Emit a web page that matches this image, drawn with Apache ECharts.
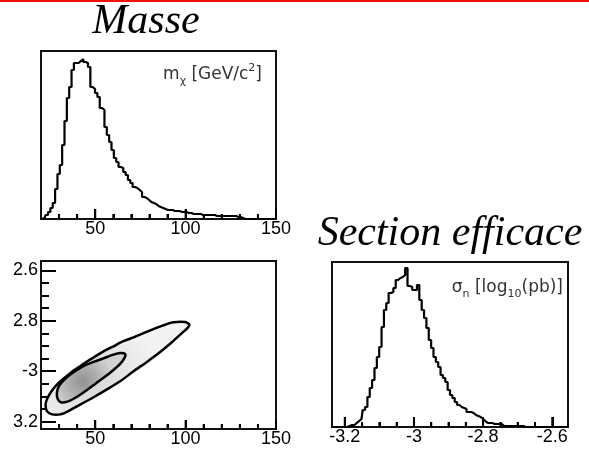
<!DOCTYPE html>
<html>
<head>
<meta charset="utf-8">
<script src="https://cdn.jsdelivr.net/npm/echarts@6/dist/echarts.min.js"></script>
<style>
  html, body { margin: 0; padding: 0; background: #fff; }
  #chart { width: 589px; height: 450px; }
</style>
</head>
<body>
<div id="chart"></div>
<script>
// Neutralino mass posterior: 100 bins from 20 to 150 GeV/c^2
const massRange = [20, 150];
const massCounts = [
  0, 1, 4, 7, 11, 16, 30, 45, 54, 74,
  98, 121, 132, 149, 156, 156, 158, 160, 157, 156,
  152, 132, 130, 126, 122, 111, 109, 92, 84, 77,
  69, 61, 57, 52, 51, 47, 44, 39, 36, 32,
  31, 29, 27, 22, 21, 19, 17, 16, 15, 13,
  12, 11, 10, 9, 9, 9, 8, 8, 8, 7,
  7, 7, 6, 6, 5, 5, 5, 5, 4, 4,
  4, 4, 4, 4, 3, 3, 3, 3, 3, 3,
  3, 3, 3, 2, 2, 1, 0, 0, 0, 0,
  0, 0, 0, 0, 0, 0, 0, 0, 0, 0
];

// Cross-section posterior, log10(pb): 100 bins
const sigmaRange = [-3.237, -2.5545];
const sigmaCounts = [
  0, 0, 0, 0, 0, 0, 0, 1, 2, 2,
  4, 6, 8, 17, 20, 30, 39, 47, 59, 70,
  80, 100, 117, 124, 134, 135, 139, 147, 149, 150,
  152, 159, 141, 140, 137, 137, 142, 127, 117, 109,
  99, 87, 79, 70, 65, 60, 52, 49, 45, 37,
  32, 29, 25, 22, 20, 19, 18, 15, 15, 14,
  12, 11, 10, 8, 6, 4, 4, 4, 3, 3,
  3, 3, 1, 1, 1, 1, 1, 1, 1, 1,
  1, 0, 0, 0, 0, 0, 0, 0, 0, 0,
  0, 0, 0, 0, 0, 0, 0, 0, 0, 0
];

// Joint (mass, sigma) credible regions
const sigma2dRange = [-3.229, -2.563];
const outerContour = [
  [102.1, -2.815], [99.7, -2.805], [93.3, -2.806], [87.7, -2.818], [82.2, -2.833],
  [76.7, -2.849], [71.2, -2.866], [65.6, -2.881], [60.1, -2.901], [54.6, -2.921],
  [49.1, -2.945], [43.5, -2.971], [38.0, -2.997], [33.4, -3.024], [29.2, -3.050],
  [26.1, -3.076], [23.6, -3.106], [22.5, -3.132], [23.3, -3.158], [26.1, -3.171],
  [30.7, -3.171], [35.2, -3.158], [41.7, -3.132], [49.1, -3.103], [56.5, -3.072],
  [63.8, -3.040], [71.2, -3.000], [78.6, -2.963], [85.9, -2.924], [92.4, -2.885],
  [97.9, -2.849], [101.0, -2.829]
];
const innerContour = [
  [66.6, -2.932], [63.8, -2.928], [60.1, -2.934], [54.6, -2.949], [49.1, -2.963],
  [44.5, -2.976], [40.8, -2.991], [36.2, -3.013], [32.5, -3.036], [29.9, -3.059],
  [28.8, -3.086], [29.2, -3.109], [31.0, -3.123], [34.4, -3.121], [39.0, -3.105],
  [43.5, -3.084], [49.1, -3.055], [54.6, -3.026], [60.1, -2.995], [63.8, -2.971],
  [66.2, -2.947]
];

// Tick positions and labels
const massTicks = [50, 100, 150];
const massMinorTicks = [30, 40, 60, 70, 80, 90, 110, 120, 130, 140];
const sigmaTicks = [-3.2, -3, -2.8, -2.6];
const sigmaMinorTicks = [-3.15, -3.1, -3.05, -2.95, -2.9, -2.85, -2.75, -2.7, -2.65];
const sigmaTickLabels = ['-3.2', '-3', '-2.8', '-2.6'];
const sigma2dTickLabels = ['3.2', '-3', '2.8', '2.6'];

function binned(range, counts) {
  const w = (range[1] - range[0]) / counts.length;
  return counts.map((c, i) => [range[0] + w * (i + 0.5), c]);
}

const labelFont = { fontFamily: "'Liberation Sans', Arial, sans-serif", fontSize: 18, color: '#000' };
const tickLine = { color: '#000', width: 2 };
const frameLine = { show: true, onZero: false, lineStyle: { color: '#111', width: 2 } };

function majorX(gridIndex, range, ticks, labels, len) {
  return {
    type: 'value', gridIndex, position: 'bottom', min: range[0], max: range[1],
    axisLine: frameLine, splitLine: { show: false },
    axisTick: { show: true, inside: true, length: len, customValues: ticks, lineStyle: tickLine },
    axisLabel: Object.assign({ show: true, margin: 1, customValues: ticks,
      formatter: v => labels ? labels[ticks.indexOf(v)] : String(v) }, labelFont)
  };
}
function minorX(gridIndex, range, ticks, len) {
  return {
    type: 'value', gridIndex, position: 'bottom', min: range[0], max: range[1],
    axisLine: frameLine, splitLine: { show: false },
    axisTick: { show: true, inside: true, length: len, customValues: ticks, lineStyle: tickLine },
    axisLabel: { show: false }
  };
}

const chart = echarts.init(document.getElementById('chart'));

const frame = { show: true, borderColor: '#111', borderWidth: 2 };

const contours = [outerContour, innerContour];
const contourFills = [
  { type: 'radial', x: 0.3, y: 0.6, r: 0.75, colorStops: [
    { offset: 0, color: '#d4d4d4' }, { offset: 0.5, color: '#e6e6e6' }, { offset: 1, color: '#f3f3f3' } ] },
  { type: 'radial', x: 0.38, y: 0.57, r: 0.6, colorStops: [
    { offset: 0, color: '#929292' }, { offset: 0.5, color: '#b0b0b0' }, { offset: 1, color: '#d2d2d2' } ] }
];

const annFont = "'DejaVu Sans', Verdana, sans-serif";

const textGraphics = [
  { type: 'rect', shape: { x: 0, y: 0, width: 589, height: 2 }, style: { fill: '#ee1111' } },
  { type: 'text', x: 146, y: 22, style: { text: 'Masse', fill: '#000',
      font: "italic 42px 'Liberation Serif', 'Times New Roman', serif", align: 'center', verticalAlign: 'middle' } },
  { type: 'text', x: 450, y: 234, style: { text: 'Section efficace', fill: '#000',
      font: "italic 42px 'Liberation Serif', 'Times New Roman', serif", align: 'center', verticalAlign: 'middle' } },
  { type: 'text', x: 262, y: 75, style: {
      text: '{m|m}{s|χ}{m| [GeV/c}{p|2}{m|]}', align: 'right', verticalAlign: 'middle',
      rich: {
        m: { fontFamily: annFont, fontSize: 17, fill: '#333', lineHeight: 24, verticalAlign: 'middle' },
        s: { fontFamily: annFont, fontSize: 11, fill: '#333', lineHeight: 12, verticalAlign: 'bottom' },
        p: { fontFamily: annFont, fontSize: 11, fill: '#333', lineHeight: 12, verticalAlign: 'top' }
      } } },
  { type: 'text', x: 563, y: 288, style: {
      text: '{m|σ}{s|n}{m| [log}{s|10}{m|(pb)]}', align: 'right', verticalAlign: 'middle',
      rich: {
        m: { fontFamily: annFont, fontSize: 17, fill: '#333', lineHeight: 24, verticalAlign: 'middle' },
        s: { fontFamily: annFont, fontSize: 11, fill: '#333', lineHeight: 12, verticalAlign: 'bottom' }
      } } }
];

chart.setOption({
  animation: false,
  grid: [
    Object.assign({ left: 41, top: 51, width: 235, height: 168 }, frame),
    Object.assign({ left: 41, top: 261, width: 235, height: 168 }, frame),
    Object.assign({ left: 332, top: 262, width: 236, height: 165 }, frame)
  ],
  xAxis: [
    majorX(0, massRange, massTicks, null, 10),
    minorX(0, massRange, massMinorTicks, 5),
    majorX(1, massRange, massTicks, null, 9),
    minorX(1, massRange, massMinorTicks, 5),
    majorX(2, sigmaRange, sigmaTicks, sigmaTickLabels, 10),
    minorX(2, sigmaRange, sigmaMinorTicks, 5)
  ],
  yAxis: [
    { type: 'value', gridIndex: 0, min: 0, max: 168, show: false },
    {
      type: 'value', gridIndex: 1, position: 'left', min: sigma2dRange[0], max: sigma2dRange[1],
      axisLine: { show: false }, splitLine: { show: false },
      axisTick: { show: true, inside: true, length: 15, customValues: sigmaTicks, lineStyle: tickLine },
      axisLabel: Object.assign({ show: true, margin: 3, customValues: sigmaTicks,
        formatter: v => sigma2dTickLabels[sigmaTicks.indexOf(v)] }, labelFont)
    },
    {
      type: 'value', gridIndex: 1, position: 'left', offset: 0, min: sigma2dRange[0], max: sigma2dRange[1],
      axisLine: { show: false }, splitLine: { show: false },
      axisTick: { show: true, inside: true, length: 8, customValues: sigmaMinorTicks, lineStyle: tickLine },
      axisLabel: { show: false }
    },
    { type: 'value', gridIndex: 2, min: 0, max: 165, show: false }
  ],
  series: [
    {
      type: 'line', xAxisIndex: 0, yAxisIndex: 0, step: 'middle', symbol: 'none',
      data: binned(massRange, massCounts),
      lineStyle: { color: '#000', width: 2.2 }, z: 5
    },
    {
      type: 'custom', coordinateSystem: 'cartesian2d', xAxisIndex: 2, yAxisIndex: 1,
      data: contours.map(c => c[0]),
      encode: { x: 0, y: 1 },
      renderItem: (params, api) => {
        const pts = contours[params.dataIndex].map(p => api.coord(p));
        return {
          type: 'polygon',
          shape: { points: pts, smooth: 0.25 },
          style: { fill: contourFills[params.dataIndex], stroke: '#000', lineWidth: 2.5 }
        };
      },
      z: 1
    },
    {
      type: 'line', xAxisIndex: 4, yAxisIndex: 3, step: 'middle', symbol: 'none',
      data: binned(sigmaRange, sigmaCounts),
      lineStyle: { color: '#000', width: 2.2 }, z: 5
    }
  ],
  graphic: textGraphics
});

// Inward tick marks along each frame's bottom edge, positioned with the axes' own scales
const tickSets = [
  { xAxisIndex: 0, yAxisIndex: 0, base: 0, values: massTicks, len: 10 },
  { xAxisIndex: 0, yAxisIndex: 0, base: 0, values: massMinorTicks, len: 5 },
  { xAxisIndex: 2, yAxisIndex: 1, base: sigma2dRange[0], values: massTicks, len: 9 },
  { xAxisIndex: 2, yAxisIndex: 1, base: sigma2dRange[0], values: massMinorTicks, len: 5 },
  { xAxisIndex: 4, yAxisIndex: 3, base: 0, values: sigmaTicks, len: 10 },
  { xAxisIndex: 4, yAxisIndex: 3, base: 0, values: sigmaMinorTicks, len: 5 }
];
const tickGraphics = [];
tickSets.forEach(set => {
  set.values.forEach(v => {
    const p = chart.convertToPixel({ xAxisIndex: set.xAxisIndex, yAxisIndex: set.yAxisIndex }, [v, set.base]);
    if (p && isFinite(p[0]) && isFinite(p[1])) {
      tickGraphics.push({ type: 'line', z: 100,
        shape: { x1: p[0], y1: p[1], x2: p[0], y2: p[1] - set.len },
        style: { stroke: '#000', lineWidth: 2 } });
    }
  });
});
chart.setOption({ graphic: textGraphics.concat(tickGraphics) }, { replaceMerge: ['graphic'] });
</script>
</body>
</html>
